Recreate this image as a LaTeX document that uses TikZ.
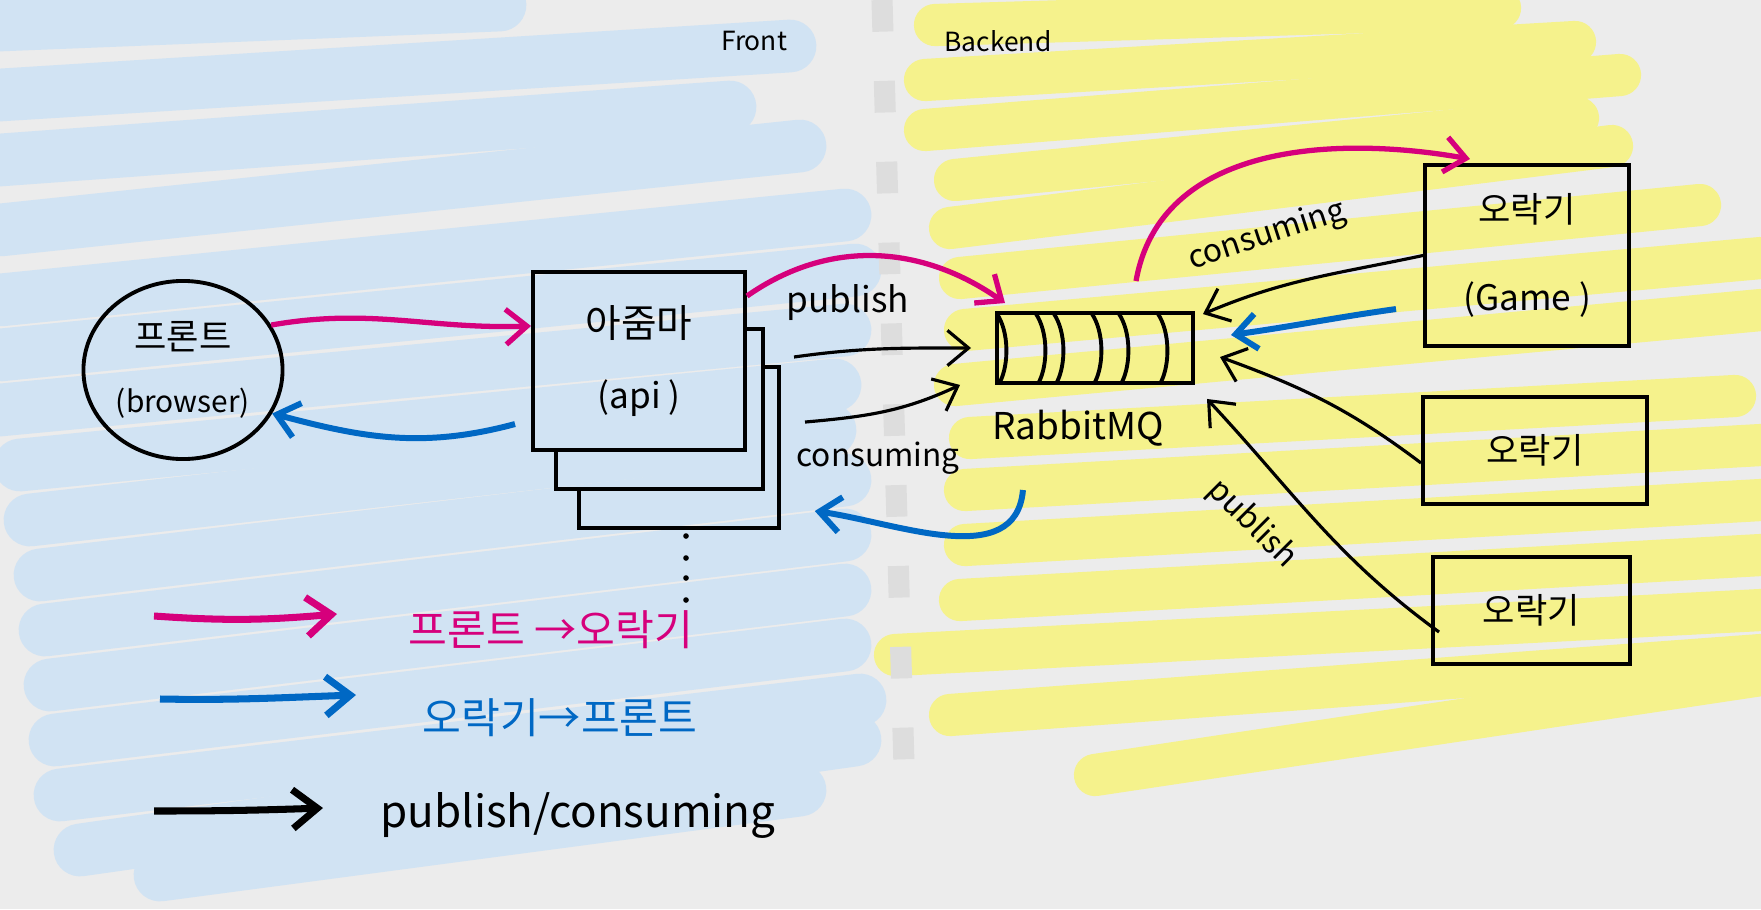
\documentclass[tikz,border=0pt]{standalone}
\usepackage{fontspec}
\setmainfont{Noto Sans CJK KR}
\usetikzlibrary{arrows.meta,shapes.geometric}

\definecolor{bgcol}{RGB}{236,236,236}
\definecolor{hlblue}{RGB}{209,227,243}
\definecolor{hlyellow}{RGB}{245,242,140}
\definecolor{sepgray}{RGB}{221,221,221}
\definecolor{pinkpen}{RGB}{214,0,124}
\definecolor{bluepen}{RGB}{0,104,196}

\tikzset{
  pen/.style={draw=black, line width=1.1pt},
  bluehl/.style={draw=hlblue, line width=15pt, line cap=round},
  yellowhl/.style={draw=hlyellow, line width=12pt, line cap=round},
  pinkarrow/.style={draw=pinkpen, line width=1.5pt, -{Straight Barb[length=6pt,width=10pt]}},
  bluearrow/.style={draw=bluepen, line width=1.7pt, -{Straight Barb[length=6pt,width=10pt]}},
  blackarrow/.style={draw=black, line width=0.9pt, -{Straight Barb[length=6pt,width=10pt]}},
  legendarrow/.style={line width=2pt, -{Straight Barb[length=7pt,width=11pt]}},
  hand/.style={font=\fontsize{9}{10}\selectfont, inner sep=0pt},
}

\begin{document}
\begin{tikzpicture}[x=0.01cm, y=-0.01cm]
  % 배경
  \fill[bgcol] (0,0) rectangle (1761,909);
  \useasboundingbox (0,0) rectangle (1761,909);

  \begin{scope}
    \clip (0,0) rectangle (1761,909);
    % 형광펜 - Front
    \foreach \xa/\ya/\xb/\yb in {0/25/500/5, 0/95/790/46, 0/160/730/107, 0/230/800/146,
        0/300/845/215, 0/355/855/270, 0/410/845/330, 20/465/835/385, 30/520/830/430,
        40/575/845/480, 45/630/845/535, 50/685/845/590, 55/740/845/645, 60/795/860/700,
        80/850/855/740, 160/875/800/790}
      \draw[bluehl] (\xa,\ya) -- (\xb,\yb);
    % 형광펜 - Backend
    \foreach \xa/\ya/\xb/\yb in {935/25/1500/8, 925/80/1575/42, 925/130/1620/75,
        955/180/1578/118, 950/228/1612/146, 960/278/1700/205, 965/330/1761/258,
        955/385/1761/310, 970/438/1735/396, 965/490/1761/445, 965/545/1761/500,
        960/600/1761/555, 895/655/1761/610, 950/715/1761/655, 1095/775/1761/675}
      \draw[yellowhl] (\xa,\ya) -- (\xb,\yb);
  \end{scope}

  % 경계선
  \draw[sepgray, line width=6pt, dash pattern=on 9pt off 14pt] (882,0) -- (905,800);
  \node[font=\fontsize{7.5}{9}\selectfont] (frontlbl) at (754,41) {Front};
  \node[font=\fontsize{7.5}{9}\selectfont] (backlbl) at (998,41) {Backend};

  % 프론트
  \node[pen, ellipse, minimum width=1.99cm, minimum height=1.78cm, inner sep=0pt, align=center]
    (front) at (183,370) {\fontsize{10}{12}\selectfont 프론트\\[6pt]\fontsize{8.5}{10}\selectfont (browser)};

  % 아줌마 (api)
  \node[pen, minimum width=2.12cm, minimum height=1.78cm, align=center]
    (api) at (639,361) {\fontsize{11}{13}\selectfont 아줌마\\[8pt](api )};
  \node[minimum width=2.05cm, minimum height=1.58cm] (api2) at (659.5,409) {};
  \node[minimum width=1.98cm, minimum height=1.59cm] (api3) at (679,447.5) {};
  \draw[pen] (api.east |- api2.north) -- (api2.north east) -- (api2.south east)
    -- (api2.south west) -- (api2.west |- api.south);
  \draw[pen] (api2.east |- api3.north) -- (api3.north east) -- (api3.south east)
    -- (api3.south west) -- (api3.west |- api2.south);
  \foreach \y in {536,558,578,600}
    \fill (686,\y) circle [radius=0.8pt];

  % RabbitMQ
  \node[pen, minimum width=1.96cm, minimum height=0.70cm] (mq) at (1095,348) {};
  \foreach \x in {997,1036,1054,1092,1119,1158}
    \draw[pen] (\x,314) .. controls (\x+12,332) and (\x+12,364) .. (\x+3,382);
  \node[font=\fontsize{10.5}{12}\selectfont] (mqlbl) at (1078,428) {RabbitMQ};

  % 오락기
  \node[pen, minimum width=2.04cm, minimum height=1.81cm, align=center]
    (game) at (1527,255.5) {\fontsize{10}{12}\selectfont 오락기\\[13pt](Game )};
  \node[pen, minimum width=2.24cm, minimum height=1.07cm, font=\fontsize{10}{12}\selectfont]
    (game2) at (1535,450.5) {오락기};
  \node[pen, minimum width=1.97cm, minimum height=1.07cm, font=\fontsize{10}{12}\selectfont]
    (game3) at (1531.5,610.5) {오락기};

  % 프론트 <-> api
  \draw[pinkarrow] (front.27) to[out=10,in=182] ([yshift=.35cm]api.west);
  \draw[bluearrow] ([xshift=-.16cm,yshift=-.63cm]api.west) to[out=195,in=-15] (front.-26);

  % api <-> RabbitMQ
  \draw[pinkarrow] ([yshift=-.26cm]api.north east) to[out=35,in=145] ([xshift=.1cm,yshift=.08cm]mq.north west);
  \draw[blackarrow] ([xshift=.47cm,yshift=.04cm]api.east) to[out=8,in=180] ([xshift=-.24cm]mq.west);
  \node[hand, font=\fontsize{10}{12}\selectfont] (publbl) at (848,303) {publish};
  \draw[blackarrow] ([xshift=.58cm,yshift=-.61cm]api.east) to[out=5,in=205] ([xshift=-.35cm]mq.south west);
  \node[hand] (conlbl) at (878,458) {consuming};
  \draw[bluearrow] ([xshift=-.72cm,yshift=-1.05cm]mq.south) to[out=-95,in=-8] ([xshift=.36cm,yshift=-.635cm]api3.east);

  % RabbitMQ <-> 오락기
  \draw[pinkarrow] ([xshift=.41cm,yshift=.3cm]mq.north) to[out=80,in=170] ([xshift=-.57cm,yshift=.04cm]game.north);
  \draw[blackarrow] (game.west) to[out=192,in=23] ([xshift=.08cm,yshift=-.03cm]mq.north east);
  \node[hand, rotate=18] (con2lbl) at (1267,236) {consuming};
  \draw[bluearrow] ([xshift=-.27cm,yshift=-.535cm]game.west) to[out=188,in=8] ([xshift=.36cm,yshift=.13cm]mq.east);
  \draw[blackarrow] ([yshift=-.125cm]game2.west) to[out=143,in=-20] ([xshift=.25cm,yshift=-.09cm]mq.east);
  \draw[blackarrow] ([xshift=.08cm,yshift=-.215cm]game3.west) to[out=144,in=-47] ([xshift=.12cm,yshift=-.14cm]mq.south east);
  \node[hand, rotate=-45] (pub2lbl) at (1252,524) {publish};

  % 범례
  \coordinate (lg1) at (154,616);
  \coordinate (lg1e) at (337,614);
  \coordinate (lg2) at (160,699);
  \coordinate (lg2e) at (356,695);
  \coordinate (lg3) at (154,811);
  \coordinate (lg3e) at (323,808);
  \draw[legendarrow, pinkpen] (lg1) to[out=-4,in=185] (lg1e);
  \draw[legendarrow, bluepen] (lg2) to[out=-1,in=182] (lg2e);
  \draw[legendarrow, black] (lg3) to[out=0,in=182] (lg3e);
  \node[anchor=west, text=pinkpen, font=\fontsize{12}{14}\selectfont] (lgt1) at (396,630) {프론트 →오락기};
  \node[anchor=west, text=bluepen, font=\fontsize{12}{14}\selectfont] (lgt2) at (410,718) {오락기→프론트};
  \node[anchor=west, font=\fontsize{12.5}{14}\selectfont] (lgt3) at (368,815) {publish/consuming};
\end{tikzpicture}
\end{document}
